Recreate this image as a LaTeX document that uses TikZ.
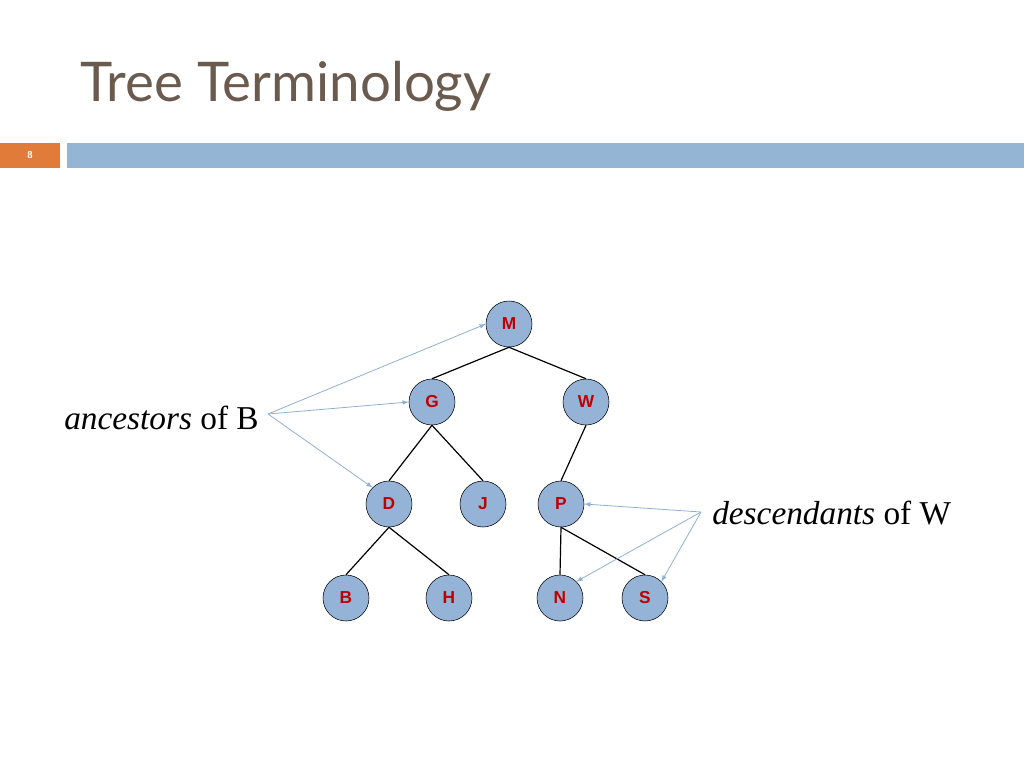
\documentclass[tikz,border=0pt]{standalone}
\usepackage{fontspec}
\setmainfont{Liberation Serif}
\newfontfamily\titlefont{Lato}
\newfontfamily\nodefont{Liberation Sans}
\definecolor{nodeblue}{HTML}{95B3D7}
\definecolor{barblue}{HTML}{95B5D5}
\definecolor{barorange}{HTML}{E07B39}
\definecolor{titlecol}{HTML}{6B5A4E}
\definecolor{arrowcol}{HTML}{8FB0D0}
\definecolor{labred}{HTML}{C00000}
\begin{document}
\begin{tikzpicture}[x=0.75pt,y=-0.75pt,
  tn/.style={circle,draw=black,fill=nodeblue,minimum size=34.5pt,inner sep=0pt,font=\nodefont\bfseries\fontsize{13}{13}\selectfont,text=labred},
  edge/.style={black,line width=0.9pt},
  pointer/.style={arrowcol,line width=0.6pt,-latex}]
\useasboundingbox (0,0) rectangle (1024,768);
\node[anchor=base west,text=titlecol,font=\titlefont\fontsize{41}{41}\selectfont,inner sep=0pt] (title) at (80,101) {Tree Terminology};
\fill[barorange] (0,143) rectangle (60,168);
\node[text=white,font=\fontsize{8}{8}\selectfont\bfseries] (num) at (30,155) {8};
\fill[barblue] (67,143) rectangle (1024,168);
\node[tn] (M) at (509,324) {M};
\node[tn] (G) at (432,402) {G};
\node[tn] (W) at (586,402) {W};
\node[tn] (D) at (389,504) {D};
\node[tn] (J) at (483,504) {J};
\node[tn] (P) at (561,504) {P};
\node[tn] (B) at (346,598) {B};
\node[tn] (H) at (449,598) {H};
\node[tn] (N) at (560,598) {N};
\node[tn] (S) at (645,598) {S};
\draw[edge] (M.south)--(G.north); \draw[edge] (M.south)--(W.north);
\draw[edge] (G.south)--(D.north); \draw[edge] (G.south)--(J.north);
\draw[edge] (W.south)--(P.north);
\draw[edge] (D.south)--(B.north); \draw[edge] (D.south)--(H.north);
\draw[edge] (P.south)--(N.north); \draw[edge] (P.south)--(S.north);
\node[anchor=east,font=\fontsize{25}{25}\selectfont,inner sep=0pt] (anc) at (259,418) {\textit{ancestors} of B};
\coordinate (a0) at (268,414);
\draw[pointer] (a0)--(M.west);
\draw[pointer] (a0)--(G.west);
\draw[pointer] (a0)--(D.north west);
\node[anchor=west,font=\fontsize{25}{25}\selectfont,inner sep=0pt] (desc) at (712,513) {\textit{descendants} of W};
\coordinate (d0) at (701,512);
\draw[pointer] (d0)--(P.east);
\draw[pointer] (d0)--(N.north east);
\draw[pointer] (d0)--(S.north east);
\end{tikzpicture}
\end{document}
